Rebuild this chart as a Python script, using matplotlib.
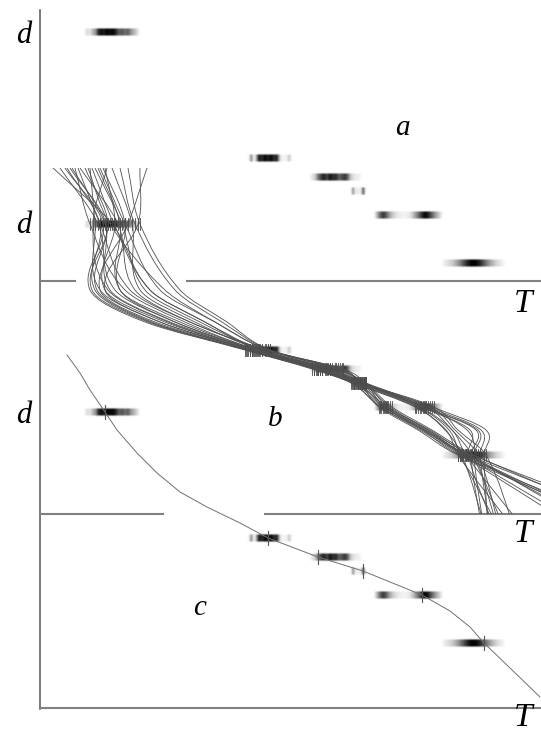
import numpy as np
import matplotlib
matplotlib.use("Agg")
import matplotlib.pyplot as plt
from matplotlib.path import Path
from matplotlib.patches import PathPatch, Rectangle

W, H = 541, 734
fig = plt.figure(figsize=(W / 100, H / 100), dpi=100)
ax = fig.add_axes([0, 0, 1, 1])

# ---------------- data ----------------
# measurement bars (panel a depth levels) and their density profiles along T
bar_d = [32, 158, 177, 191, 215, 263]
bar_T = [
    [84, 87, 90, 93, 96, 98, 101, 104, 107, 110, 113, 116, 119, 122, 125, 128, 131, 134, 137, 140],
    [247, 250, 251, 252.5, 255, 257, 259, 262, 265, 268, 271, 274, 277, 279, 281, 287, 289, 291, 293],
    [309, 312, 315, 318, 321, 324, 327, 330, 333, 336, 339, 342, 345, 348, 350, 354, 360, 362],
    [350, 352, 353, 354, 360, 362, 363, 364.5, 366],
    [374, 377, 380, 383, 386, 389, 393, 398, 405, 410, 414, 418, 422, 425, 428, 432, 436, 440, 443],
    [441, 446, 452, 458, 463, 467, 471, 475, 479, 483, 487, 492, 497, 503, 506],
]
bar_dark = [
    [0, .15, .1, .3, .45, .85, .95, .9, 1, .95, 1, .85, .6, .7, .55, .65, .4, .3, .15, 0],
    [0, .1, .7, .1, .05, .5, .95, .8, 1, .85, 1, .8, .9, .3, .05, .05, .25, .05, 0],
    [0, .1, .2, .55, .75, .9, .7, .95, .8, .85, .6, .7, .8, .6, .25, .1, .05, 0],
    [0, .1, .75, .1, .05, .2, .9, .2, 0],
    [0, .3, .6, .8, .65, .4, .2, .08, .05, .1, .3, .55, .85, 1, .9, .6, .35, .15, 0],
    [0, .1, .2, .4, .65, .85, 1, 1, .9, .7, .5, .3, .15, .05, 0],
]
panel_offset = [0, 192, 380]

# panel b: bundle of fitted curves, T read at depth levels
lvl_b = [168, bar_d[0] + 192, 290, 322, bar_d[1] + 192, bar_d[2] + 192,
         bar_d[3] + 192, bar_d[4] + 192, 430, bar_d[5] + 192, 530]
bar_lvl_idx = [1, 4, 5, 6, 7, 9]
curves_b = [
    [53, 112, 150, 205, 262, 330, 362, 430, 455, 478, 500],
    [67, 100, 95, 150, 248, 316, 354, 416, 445, 462, 486],
    [72, 105, 110, 170, 255, 322, 360, 423, 476, 471, 482],
    [80, 118, 135, 190, 265, 335, 365, 428, 481, 480, 490],
    [90, 95, 100, 160, 250, 318, 356, 418, 449, 460, 500],
    [100, 125, 160, 215, 268, 340, 366, 432, 486, 484, 488],
    [105, 115, 105, 165, 253, 320, 358, 421, 470, 468, 495],
    [128, 140, 180, 227, 270, 342, 364, 434, 458, 486, 515],
    [147, 128, 100, 155, 252, 325, 361, 424, 478, 474, 484],
    [98, 120, 120, 180, 258, 328, 359, 426, 452, 472, 505],
    [85, 108, 92, 148, 246, 314, 353, 415, 446, 458, 515],
    [112, 132, 140, 195, 260, 332, 363, 425, 467, 476, 498],
    [75, 90, 125, 185, 257, 327, 362, 420, 452, 466, 525],
    [60, 98, 115, 175, 256, 322, 358, 384, 424, 465, 620],
    [70, 106, 97, 152, 247, 314, 352, 380, 422, 460, 640],
    [95, 122, 145, 200, 262, 330, 362, 390, 428, 470, 600],
    [140, 138, 105, 160, 252, 318, 355, 387, 428, 468, 660],
    [78, 100, 130, 190, 266, 336, 364, 385, 425, 466, 610],
    [103, 125, 120, 175, 254, 320, 357, 379, 418, 458, 630],
    [88, 110, 165, 215, 268, 338, 365, 392, 432, 474, 650],
    [107, 93, 108, 168, 250, 317, 354, 383, 423, 463, 590],
    [120, 135, 175, 222, 270, 343, 366, 388, 430, 472, 670],
    [65, 103, 90, 145, 245, 312, 351, 381, 420, 461, 580],
    [92, 114, 150, 205, 259, 326, 360, 386, 426, 467, 625],
]

# panel c: single curve
curve_c_T = [67, 80, 90, 105, 117, 137, 157, 180, 207, 240, 268, 318, 363, 390, 422,
             450, 470, 484, 510, 540]
curve_c_d = [355, 373, 390, 412, 430, 453, 473, 492, 507, 523, 538, 557, 571, 582, 595,
             611, 627, 643, 668, 697]
ticks_c_T = [105, 268, 318, 363, 422, 484]

# ---------------- drawing ----------------
def draw_bar(d, Tk, dk):
    x0, x1 = min(Tk) - 3, max(Tk) + 3
    xs = np.arange(x0, x1, 0.25)
    prof = np.interp(xs, Tk, dk)
    k = np.exp(-0.5 * (np.arange(-8, 9) * 0.25 / 0.9) ** 2)
    prof = np.convolve(prof, k / k.sum(), mode="same")
    ys = np.arange(-5, 5.01, 0.25)
    vert = np.clip((4.6 - np.abs(ys)) / 2.0, 0, 1)
    img = np.zeros((len(ys), len(xs), 4))
    img[..., 3] = np.clip(vert[:, None] * prof[None, :], 0, 1)
    ax.imshow(img, extent=(x0, x1, d + 5, d - 5), interpolation="bilinear",
              aspect="auto", zorder=2)

for off in panel_offset:
    for d, Tk, dk in zip(bar_d, bar_T, bar_dark):
        draw_bar(d + off, Tk, dk)


def hermite_path(xs, ys):
    xs = np.asarray(xs, float)
    ys = np.asarray(ys, float)
    n = len(xs)
    m = np.empty(n)
    m[0] = (xs[1] - xs[0]) / (ys[1] - ys[0])
    m[-1] = (xs[-1] - xs[-2]) / (ys[-1] - ys[-2])
    m[1:-1] = (xs[2:] - xs[:-2]) / (ys[2:] - ys[:-2])
    verts = [(xs[0], ys[0])]
    codes = [Path.MOVETO]
    for i in range(n - 1):
        h = ys[i + 1] - ys[i]
        verts += [(xs[i] + m[i] * h / 3, ys[i] + h / 3),
                  (xs[i + 1] - m[i + 1] * h / 3, ys[i + 1] - h / 3),
                  (xs[i + 1], ys[i + 1])]
        codes += [Path.CURVE4] * 3
    return Path(verts, codes)


clip_b = Rectangle((40, 168), 501, 346, transform=ax.transData)
for cv in curves_b:
    p = PathPatch(hermite_path(cv, lvl_b), facecolor="none", edgecolor="#505050",
                  lw=0.6, zorder=3)
    ax.add_patch(p)
    p.set_clip_path(clip_b)
    for j in bar_lvl_idx:
        ax.plot([cv[j], cv[j]], [lvl_b[j] - 6, lvl_b[j] + 6], color="#4a4a4a",
                lw=0.6, zorder=3)

ax.plot(curve_c_T, curve_c_d, color="#707070", lw=0.7, zorder=3)
for t, d in zip(ticks_c_T, bar_d):
    ax.plot([t, t], [d + 380 - 7, d + 380 + 7], color="#555555", lw=0.8, zorder=3)

# axes lines
ax.plot([40, 40], [10, 709], color="#555555", lw=1.1, zorder=1)
for segs, y in [([(40, 75), (187, 541)], 281), ([(40, 163), (265, 541)], 514),
                ([(40, 541)], 708)]:
    for a, b in segs:
        ax.plot([a, b], [y, y], color="#808080", lw=1.5, zorder=1)

fs = dict(family="Liberation Serif", style="italic", color="black")
for y in [43, 233, 423]:
    ax.text(24, y, "d", fontsize=22, ha="center", va="baseline", **fs)
for y in [312, 542]:
    ax.text(523, y, "T", fontsize=24, ha="center", va="baseline", **fs)
ax.text(523, 733, "T", fontsize=24, ha="center", va="bottom", **fs)
ax.text(402, 135, "a", fontsize=21, ha="center", va="baseline", **fs)
ax.text(275, 426, "b", fontsize=21, ha="center", va="baseline", **fs)
ax.text(200, 615, "c", fontsize=21, ha="center", va="baseline", **fs)

ax.set_xlim(0, W)
ax.set_ylim(H, 0)
ax.axis("off")
fig.savefig("out.png", dpi=100)
